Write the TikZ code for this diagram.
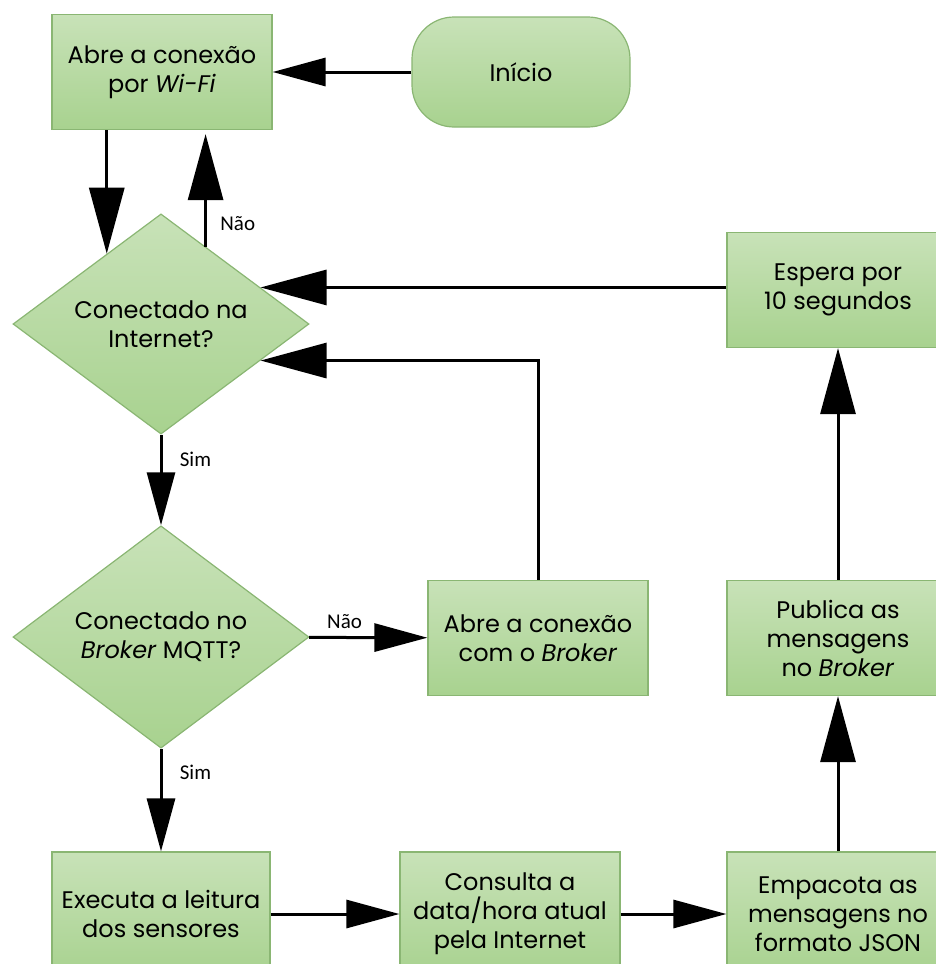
\documentclass[tikz,border=0pt]{standalone}
\usepackage{fontspec}
\setmainfont{Poppins}
\newfontfamily\answerfont{Carlito}
\usetikzlibrary{shapes.geometric,arrows.meta,calc}
\definecolor{boxtop}{HTML}{C8E2B8}
\definecolor{boxbot}{HTML}{A8D28F}
\definecolor{boxline}{HTML}{8AB673}

\begin{document}
\begin{tikzpicture}[x=1pt, y=-1pt, font=\fontsize{24}{29}\selectfont, line width=3pt]
    \tikzstyle{process}=[rectangle,draw=boxline,line width=1.2pt,top color=boxtop,bottom color=boxbot,minimum width=220pt,minimum height=115pt,align=center,inner sep=0pt]
    \tikzstyle{terminal}=[process,rounded corners=42pt,minimum width=218pt,minimum height=110pt]
    \tikzstyle{decision}=[diamond,draw=boxline,line width=1.2pt,top color=boxtop,bottom color=boxbot,minimum width=296pt,minimum height=206pt,align=center,inner sep=0pt]
    \tikzstyle{bigtip}=[-{Triangle[length=66pt,width=35pt]}]
    \tikzstyle{smalltip}=[-{Triangle[length=53pt,width=28pt]}]
    \tikzstyle{answer}=[font=\answerfont\fontsize{21}{25}\selectfont]
    \useasboundingbox (0,0) rectangle (935,964);
    % left column
    \node[process] (wifi) at (162,72) {Abre a conexão\\por \textit{Wi-Fi}};
    \node[terminal] (inicio) at (521,72) {Início};
    \node[decision] (net) at (161,324) {Conectado na\\Internet?};
    \node[decision] (mqtt) at (161,637) {Conectado no\\\textit{Broker} MQTT?};
    \node[process] (broker) at (538,638) {Abre a conexão\\com o \textit{Broker}};
    % bottom row and right column
    \node[process,minimum width=218pt,minimum height=124pt] (leitura) at (161,914) {Executa a leitura\\dos sensores};
    \node[process,minimum height=124pt] (consulta) at (510,914) {Consulta a\\data/hora atual\\pela Internet};
    \node[process,minimum width=222pt,minimum height=124pt] (empacota) at (838,914) {Empacota as\\mensagens no\\formato JSON};
    \node[process,minimum width=222pt] (publica) at (838,638) {Publica as\\mensagens\\no \textit{Broker}};
    \node[process,minimum width=222pt] (espera) at (838,290) {Espera por\\10 segundos};
    % points on the diamond edges
    \coordinate (netin) at ($(net.north)!0.365!(net.west)$);
    \coordinate (netout) at ($(net.north)!0.30!(net.east)$);
    \coordinate (netloop) at ($(net.east)!0.33!(net.north)$);
    \coordinate (netretry) at ($(net.east)!0.33!(net.south)$);
    \path[smalltip](inicio)edge(wifi);
    \path[bigtip](wifi.south -| netin)edge(netin);
    \path[bigtip](netout)edge[shorten >=4pt]node[answer,pos=0.2,right=10pt]{Não}(netout |- wifi.south);
    \path[smalltip](net)edge node[answer,pos=0.27,right=14pt]{Sim}(mqtt);
    \path[smalltip](mqtt)edge node[answer,pos=0.3,above=4pt]{Não}(broker);
    \draw[bigtip](broker.north) |- (netretry);
    \path[smalltip](mqtt)edge node[answer,pos=0.23,right=14pt]{Sim}(leitura);
    \path[smalltip](leitura)edge(consulta);
    \path[smalltip](consulta)edge(empacota);
    \path[bigtip](empacota)edge(publica);
    \path[bigtip](publica)edge(espera);
    \path[bigtip](espera.west |- netloop)edge(netloop);
\end{tikzpicture}
\end{document}
